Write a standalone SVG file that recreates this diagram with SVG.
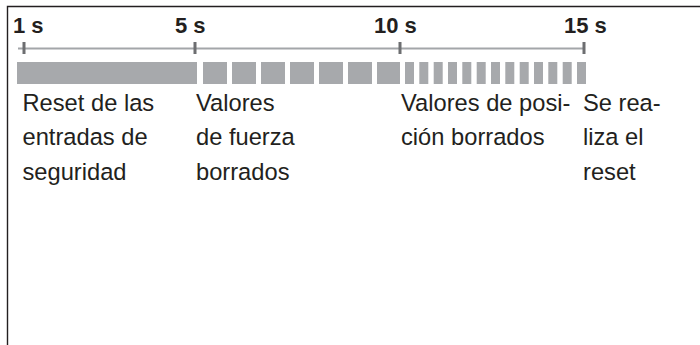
<svg xmlns="http://www.w3.org/2000/svg" width="700" height="345" viewBox="0 0 700 345">
<style>
.frame{stroke:#231f20;stroke-width:1.4;fill:none}
.axis{stroke:#a3a6a9;stroke-width:2;fill:none}
.tick{fill:#6d6e71}
.bar{fill:#a7a9ac}
.tl{font-family:"Liberation Sans",Arial,sans-serif;font-weight:bold;font-size:22px;fill:#231f20}
.lb{font-family:"Liberation Sans",Arial,sans-serif;font-size:23.7px;fill:#231f20}
</style>
<rect width="700" height="345" fill="#ffffff"/>
<g id="frame">
<path class="frame" d="M7.5,345 V6.5 H700"/>
</g>
<g id="axis">
<line class="axis" x1="18" y1="48.5" x2="584" y2="48.5"/>
<rect class="tick" x="22.5" y="42" width="3" height="12"/>
<rect class="tick" x="193.5" y="42" width="3" height="12"/>
<rect class="tick" x="398.5" y="42" width="3" height="12"/>
<rect class="tick" x="582.5" y="42" width="3" height="12"/>
<text class="tl" x="13" y="32.5">1 s</text>
<text class="tl" x="175" y="32.5">5 s</text>
<text class="tl" x="374" y="32.5">10 s</text>
<text class="tl" x="564" y="32.5">15 s</text>
</g>
<g id="bars">
<rect class="bar" x="17" y="62" width="180" height="22"/>
<rect class="bar" x="203" y="62" width="24" height="22"/>
<rect class="bar" x="232" y="62" width="24" height="22"/>
<rect class="bar" x="261" y="62" width="24" height="22"/>
<rect class="bar" x="290" y="62" width="24" height="22"/>
<rect class="bar" x="319" y="62" width="24" height="22"/>
<rect class="bar" x="348" y="62" width="24" height="22"/>
<rect class="bar" x="377" y="62" width="23" height="22"/>
<rect class="bar" x="405" y="62" width="9" height="22"/>
<rect class="bar" x="419.3" y="62" width="9" height="22"/>
<rect class="bar" x="433.7" y="62" width="9" height="22"/>
<rect class="bar" x="448" y="62" width="9" height="22"/>
<rect class="bar" x="462.3" y="62" width="9" height="22"/>
<rect class="bar" x="476.7" y="62" width="9" height="22"/>
<rect class="bar" x="491" y="62" width="9" height="22"/>
<rect class="bar" x="505.3" y="62" width="9" height="22"/>
<rect class="bar" x="519.7" y="62" width="9" height="22"/>
<rect class="bar" x="534" y="62" width="9" height="22"/>
<rect class="bar" x="548.3" y="62" width="9" height="22"/>
<rect class="bar" x="562.7" y="62" width="9" height="22"/>
<rect class="bar" x="577" y="62" width="9" height="22"/>
</g>
<g id="label1">
<text class="lb" x="22.5" y="110.5">Reset de las</text>
<text class="lb" x="22.5" y="145">entradas de</text>
<text class="lb" x="22.5" y="179.5">seguridad</text>
</g>
<g id="label2">
<text class="lb" x="196" y="110.5">Valores</text>
<text class="lb" x="196" y="145">de fuerza</text>
<text class="lb" x="196" y="179.5">borrados</text>
</g>
<g id="label3">
<text class="lb" x="401" y="110.5">Valores de posi-</text>
<text class="lb" x="401" y="145">ción borrados</text>
</g>
<g id="label4">
<text class="lb" x="583" y="110.5">Se rea-</text>
<text class="lb" x="583" y="145">liza el</text>
<text class="lb" x="583" y="179.5">reset</text>
</g>
</svg>
